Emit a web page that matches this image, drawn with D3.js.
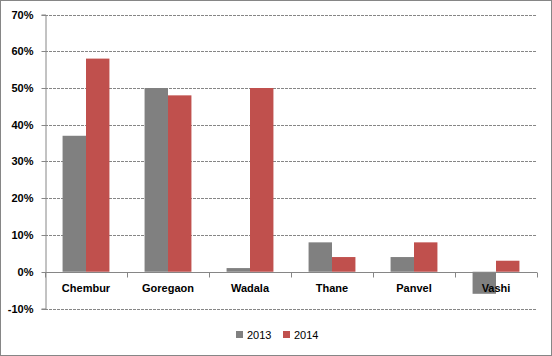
<!DOCTYPE html>
<html><head><meta charset="utf-8">
<script src="https://cdn.jsdelivr.net/npm/d3@7"></script>
<style>body{margin:0;background:#fff}svg{display:block}</style>
</head><body>
<svg id="c" width="552" height="356"></svg>
<script>
const categories = ["Chembur","Goregaon","Wadala","Thane","Panvel","Vashi"];
const seriesNames = ["2013","2014"];
const values2013 = [0.37,0.50,0.01,0.08,0.04,-0.06];
const values2014 = [0.58,0.48,0.50,0.04,0.08,0.03];
const yTicks = [-0.1,0,0.1,0.2,0.3,0.4,0.5,0.6,0.7];
const colors = ["#808080","#C0504D"];

(function(){
const svg = d3.select("#c");
const W=552,H=356;
const mLeft=45,mRight=537,mTop=14.5,mBottom=308.5;
svg.append("rect").attr("x",0.5).attr("y",0.5).attr("width",W-1).attr("height",H-1)
  .attr("fill","#fff").attr("stroke","#868686").attr("stroke-width",1);

const y = d3.scaleLinear().domain([-0.1,0.7]).range([mBottom,mTop]);
const x0 = d3.scaleBand().domain(categories).range([mLeft,mRight]).paddingInner(0).paddingOuter(0);
const bw = x0.bandwidth()/(2+1.5);
const x1 = d3.scaleBand().domain(seriesNames).range([0,2*bw]);

// gridlines
svg.append("g").selectAll("line").data(yTicks.filter(d=>d!==0)).join("line")
  .attr("x1",mLeft).attr("x2",mRight)
  .attr("y1",d=>Math.round(y(d))+0.5).attr("y2",d=>Math.round(y(d))+0.5)
  .attr("stroke","#868686").attr("stroke-dasharray","3,1").attr("stroke-width",1);

// y axis
const pct = d => Math.round(d*100) + "%";
const yAxis = d3.axisLeft(y).tickValues(yTicks).tickFormat(pct).tickSize(4).tickPadding(8);
const gy = svg.append("g").attr("transform",`translate(${mLeft+0.5},0)`).call(yAxis);
gy.selectAll("line,path").attr("stroke","#868686");
gy.selectAll(".tick").attr("transform",d=>`translate(0,${Math.round(y(d))+0.5})`);
gy.selectAll("text").attr("font-family","Liberation Sans, Arial, sans-serif").attr("font-weight","bold")
  .attr("font-size","11px").attr("fill","#000");

// bars
const data = categories.map((c,i)=>({c, v:[values2013[i],values2014[i]]}));
const groups = svg.append("g").selectAll("g").data(data).join("g")
  .attr("transform",d=>`translate(${x0(d.c)+0.75*bw},0)`);
groups.selectAll("rect").data(d=>d.v.map((v,j)=>({v,s:seriesNames[j],j}))).join("rect")
  .attr("x",d=>x1(d.s)).attr("width",bw)
  .attr("y",d=>y(Math.max(0,d.v))).attr("height",d=>Math.abs(y(d.v)-y(0)))
  .attr("fill",d=>colors[d.j]);

// x axis line at zero
const zy = Math.round(y(0))+0.5;
svg.append("line").attr("x1",mLeft).attr("x2",mRight).attr("y1",zy).attr("y2",zy).attr("stroke","#868686");
const tickXs = categories.map(c=>x0(c)).concat([mRight]);
svg.append("g").selectAll("line").data(tickXs).join("line")
  .attr("x1",d=>Math.round(d)+0.5).attr("x2",d=>Math.round(d)+0.5)
  .attr("y1",zy).attr("y2",zy+5).attr("stroke","#868686");
svg.append("g").selectAll("text").data(categories).join("text")
  .attr("x",d=>x0(d)+x0.bandwidth()/2).attr("y",292)
  .attr("text-anchor","middle").attr("font-family","Liberation Sans, Arial, sans-serif")
  .attr("font-weight","bold").attr("font-size","11px").attr("fill","#000").text(d=>d);

// legend
const leg = svg.append("g");
const legX=[236,283];
seriesNames.forEach((s,i)=>{
  leg.append("rect").attr("x",legX[i]).attr("y",331).attr("width",7).attr("height",7).attr("fill",colors[i]);
  leg.append("text").attr("x",legX[i]+11).attr("y",339).attr("font-family","Liberation Sans, Arial, sans-serif")
    .attr("font-size","11px").attr("fill","#000").text(s);
});
})();
</script>
</body></html>
